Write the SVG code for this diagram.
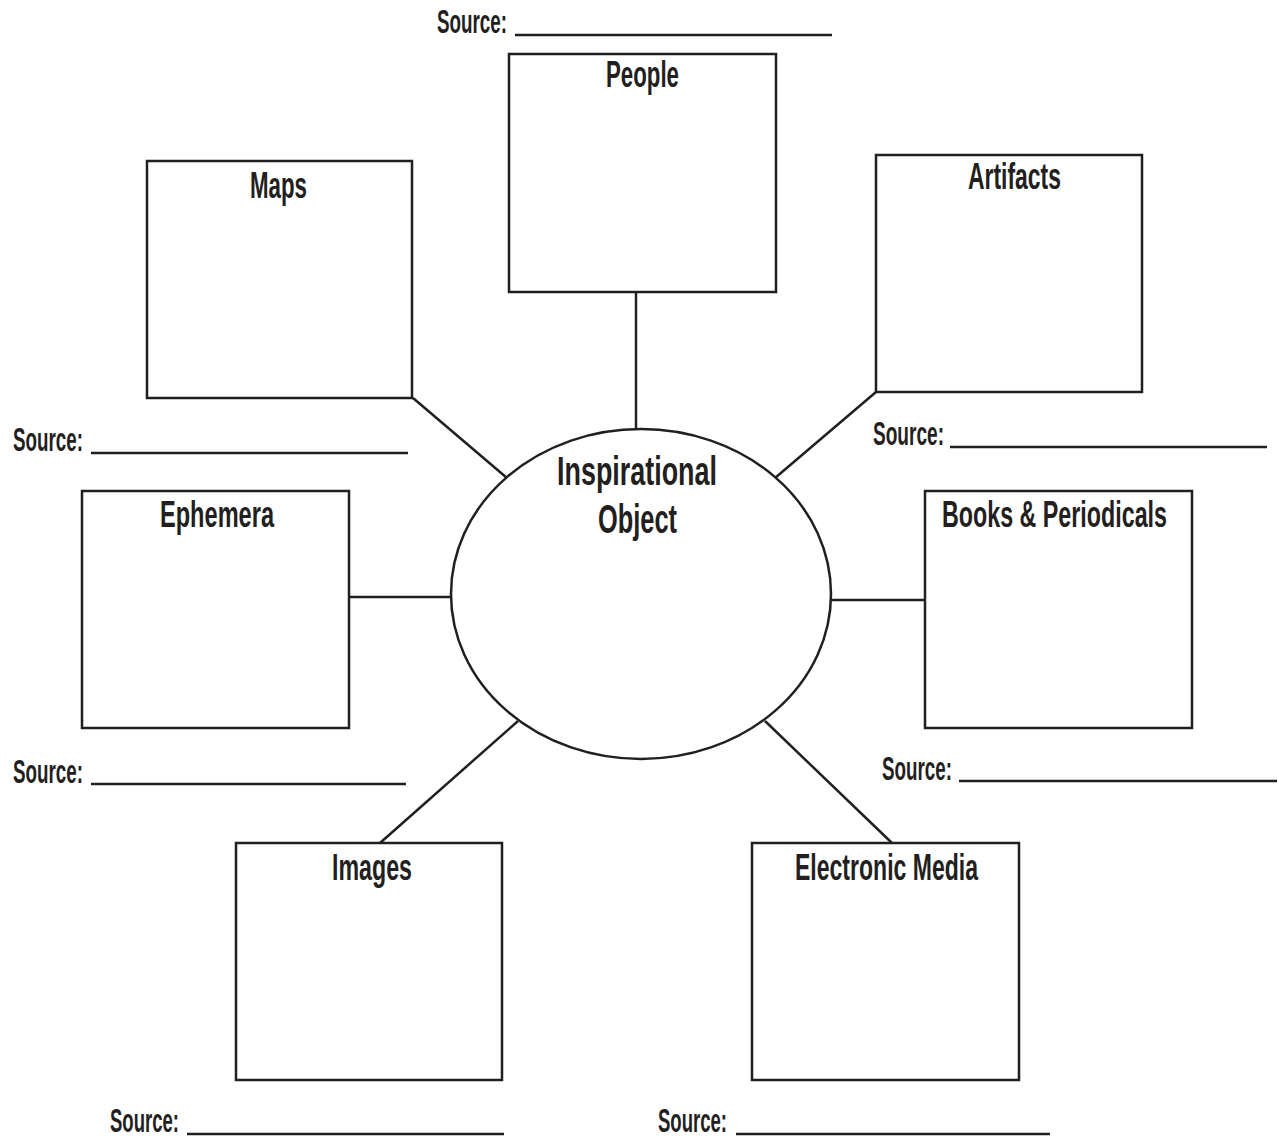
<svg xmlns="http://www.w3.org/2000/svg" width="1278" height="1139" viewBox="0 0 1278 1139">
<style>
.box{fill:#fff;stroke:#231f20;stroke-width:2.5}
.conn line{stroke:#231f20;stroke-width:2.5}
.lbl{font-family:"Liberation Sans",Arial,sans-serif;font-size:37px;font-weight:bold;fill:#231f20}
.src{font-family:"Liberation Sans",Arial,sans-serif;font-size:33px;font-weight:bold;fill:#231f20}
.rule{stroke:#231f20;stroke-width:2.5}
</style>
<rect width="1278" height="1139" fill="#fff"/>
<g class="conn" id="connectors">
<line x1="636" y1="292" x2="636" y2="429"/>
<line x1="413" y1="398" x2="507" y2="478"/>
<line x1="876" y1="392" x2="775" y2="478"/>
<line x1="349" y1="597" x2="451" y2="597"/>
<line x1="831" y1="600" x2="925" y2="600"/>
<line x1="380" y1="843" x2="518" y2="721"/>
<line x1="892" y1="843" x2="765" y2="721"/>
</g>
<g id="center">
<ellipse class="box" cx="641" cy="594" rx="190" ry="165"/>
<text class="lbl" x="557" y="485" textLength="160" lengthAdjust="spacingAndGlyphs" style="font-size:41px">Inspirational</text>
<text class="lbl" x="598" y="533" textLength="79" lengthAdjust="spacingAndGlyphs" style="font-size:41px">Object</text>
</g>
<g id="people">
<rect class="box" x="509" y="54" width="267" height="238"/>
<text class="lbl" x="606" y="87" textLength="73" lengthAdjust="spacingAndGlyphs">People</text>
</g>
<g id="maps">
<rect class="box" x="147" y="161" width="265" height="237"/>
<text class="lbl" x="250" y="198" textLength="57" lengthAdjust="spacingAndGlyphs">Maps</text>
</g>
<g id="artifacts">
<rect class="box" x="876" y="155" width="266" height="237"/>
<text class="lbl" x="968" y="189" textLength="93" lengthAdjust="spacingAndGlyphs">Artifacts</text>
</g>
<g id="ephemera">
<rect class="box" x="82" y="491" width="267" height="237"/>
<text class="lbl" x="160" y="527" textLength="114" lengthAdjust="spacingAndGlyphs">Ephemera</text>
</g>
<g id="books">
<rect class="box" x="925" y="491" width="267" height="237"/>
<text class="lbl" x="942" y="527" textLength="225" lengthAdjust="spacingAndGlyphs">Books &amp; Periodicals</text>
</g>
<g id="images">
<rect class="box" x="236" y="843" width="266" height="237"/>
<text class="lbl" x="332" y="880" textLength="80" lengthAdjust="spacingAndGlyphs">Images</text>
</g>
<g id="electronic">
<rect class="box" x="752" y="843" width="267" height="237"/>
<text class="lbl" x="795" y="880" textLength="183" lengthAdjust="spacingAndGlyphs">Electronic Media</text>
</g>
<g id="sources">
<text class="src" x="437" y="33" textLength="70" lengthAdjust="spacingAndGlyphs">Source:</text>
<line class="rule" x1="515" y1="35" x2="832" y2="35"/>
<text class="src" x="13" y="451" textLength="70" lengthAdjust="spacingAndGlyphs">Source:</text>
<line class="rule" x1="91" y1="453" x2="408" y2="453"/>
<text class="src" x="873" y="445" textLength="71" lengthAdjust="spacingAndGlyphs">Source:</text>
<line class="rule" x1="950" y1="447" x2="1267" y2="447"/>
<text class="src" x="13" y="783" textLength="70" lengthAdjust="spacingAndGlyphs">Source:</text>
<line class="rule" x1="91" y1="784" x2="406" y2="784"/>
<text class="src" x="882" y="780" textLength="70" lengthAdjust="spacingAndGlyphs">Source:</text>
<line class="rule" x1="959" y1="781" x2="1277" y2="781"/>
<text class="src" x="110" y="1132" textLength="69" lengthAdjust="spacingAndGlyphs">Source:</text>
<line class="rule" x1="187" y1="1134" x2="504" y2="1134"/>
<text class="src" x="658" y="1132" textLength="69" lengthAdjust="spacingAndGlyphs">Source:</text>
<line class="rule" x1="736" y1="1134" x2="1050" y2="1134"/>
</g>
</svg>
